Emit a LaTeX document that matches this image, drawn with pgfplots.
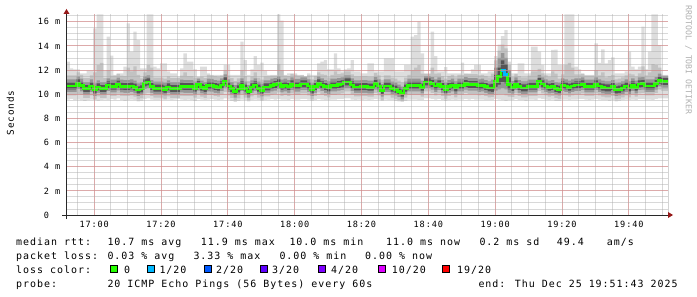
\documentclass[border=0pt]{standalone}
\usepackage{fontspec}
\usepackage{pgfplots}
\pgfplotsset{compat=1.18}
\usepackage{pgfplotstable}

\newfontfamily\rrdfont{DejaVu Sans Mono}[LetterSpace=10]
\newfontfamily\rrdplain{DejaVu Sans Mono}
\newcommand\legfont{\rrdfont\fontsize{10}{12}\selectfont}
\newcommand\tickfont{\rrdfont\fontsize{8.6}{10}\selectfont}
\newcommand\ylabfont{\rrdfont\fontsize{9.4}{11}\selectfont}
\newcommand\wmfont{\rrdplain\fontsize{8.2}{10}\selectfont}

\definecolor{smA}{HTML}{DDDDDD}
\definecolor{smB}{HTML}{C2C2C2}
\definecolor{smC}{HTML}{969696}
\definecolor{smD}{HTML}{555555}
\definecolor{lossA}{HTML}{26FF00}
\definecolor{lossB}{HTML}{00B8FF}
\definecolor{lossC}{HTML}{0059FF}
\definecolor{lossD}{HTML}{5E00FF}
\definecolor{lossE}{HTML}{7E00FF}
\definecolor{lossF}{HTML}{DD00FF}
\definecolor{lossG}{HTML}{FF0000}
\definecolor{gridred}{RGB}{225,125,125}
\definecolor{gridgray}{RGB}{170,170,170}
\definecolor{axiscol}{RGB}{40,40,40}
\definecolor{arrowcol}{RGB}{150,25,25}
\definecolor{wmcol}{RGB}{175,175,175}

\pgfplotstableread{
i mn l2 l3 l4 md h4 h3 h2 mx
0 9.55 9.90 10.18 10.40 10.68 10.98 11.23 11.56 12.69
1 9.60 9.90 10.18 10.40 10.68 10.98 11.23 11.56 12.14
2 9.50 9.90 10.18 10.40 10.68 10.98 11.23 11.56 12.06
3 9.55 10.00 10.43 10.65 10.93 11.23 11.48 11.81 12.06
4 9.50 9.95 10.23 10.45 10.73 11.03 11.28 11.61 11.73
5 9.45 9.68 9.96 10.18 10.46 10.76 11.01 11.34 11.73
6 9.50 9.68 9.96 10.18 10.46 10.76 11.01 11.34 11.95
7 9.55 9.90 10.18 10.40 10.68 10.98 11.23 11.56 11.95
8 9.50 9.57 9.85 10.07 10.35 10.65 10.90 11.80 15.45
9 9.45 9.82 10.10 10.32 10.60 10.90 11.15 12.40 16.60
10 9.50 9.68 9.96 10.18 10.46 10.76 11.01 12.60 16.60
11 9.55 9.68 9.96 10.18 10.46 10.76 11.01 11.34 11.95
12 9.50 9.98 10.26 10.48 10.76 11.06 11.31 12.00 14.76
13 9.60 9.87 10.15 10.37 10.65 10.95 11.20 11.53 13.19
14 9.55 9.87 10.15 10.37 10.65 10.95 11.20 11.53 11.60
15 9.65 10.04 10.32 10.54 10.82 11.12 11.37 11.68 11.73
16 9.50 9.87 10.15 10.37 10.65 10.95 11.20 11.53 11.73
17 9.45 9.84 10.12 10.34 10.62 10.92 11.17 11.50 12.28
18 9.50 9.84 10.12 10.34 10.62 10.92 11.17 12.20 15.87
19 9.55 9.90 10.18 10.40 10.68 10.98 11.23 11.90 13.52
20 9.50 9.79 10.07 10.29 10.57 10.87 11.12 12.30 15.18
21 9.40 9.57 9.85 10.07 10.35 10.65 10.90 11.60 14.48
22 9.45 9.65 9.93 10.15 10.43 10.73 10.98 11.31 12.14
23 9.60 10.05 10.43 10.65 10.93 11.23 11.48 11.81 12.14
24 9.65 10.10 10.51 10.73 11.01 11.31 11.56 12.40 16.60
25 9.55 9.84 10.12 10.34 10.62 10.92 11.17 12.20 16.60
26 9.50 9.71 9.99 10.21 10.49 10.79 11.04 11.37 12.28
27 9.50 9.71 9.99 10.21 10.49 10.79 11.04 11.37 12.14
28 9.55 9.71 9.99 10.21 10.49 10.79 11.04 11.37 12.55
29 9.50 9.62 9.90 10.12 10.40 10.70 10.95 11.28 12.55
30 9.55 9.82 10.10 10.32 10.60 10.90 11.15 11.48 11.90
31 9.50 9.68 9.96 10.18 10.46 10.76 11.01 11.34 11.73
32 9.55 9.68 9.96 10.18 10.46 10.76 11.01 11.34 11.73
33 9.60 9.68 9.96 10.18 10.46 10.76 11.01 11.34 11.45
34 9.55 9.87 10.15 10.37 10.65 10.95 11.20 11.53 12.14
35 9.50 9.84 10.12 10.34 10.62 10.92 11.17 11.80 13.38
36 9.55 9.84 10.12 10.34 10.62 10.92 11.17 11.50 12.69
37 9.50 9.84 10.12 10.34 10.62 10.92 11.17 11.50 12.69
38 9.45 9.71 9.99 10.21 10.49 10.79 11.04 11.37 12.06
39 9.60 10.01 10.29 10.51 10.79 11.09 11.30 11.40 11.45
40 9.55 9.79 10.07 10.29 10.57 10.87 11.12 11.45 12.28
41 9.50 9.68 9.96 10.18 10.46 10.76 11.01 11.34 12.28
42 9.55 9.95 10.23 10.45 10.73 11.03 11.28 11.61 11.73
43 9.60 9.93 10.21 10.43 10.71 11.01 11.26 11.55 11.60
44 9.55 9.84 10.12 10.34 10.62 10.92 11.17 11.50 11.60
45 9.50 9.79 10.07 10.29 10.57 10.87 11.12 11.45 11.60
46 9.55 9.98 10.26 10.48 10.76 11.06 11.31 11.54 11.59
47 9.65 10.20 10.55 10.81 11.09 11.39 11.64 11.97 12.42
48 9.55 9.90 10.18 10.40 10.68 10.98 11.23 11.56 12.42
49 9.45 9.68 9.96 10.18 10.46 10.76 11.01 11.34 11.59
50 9.35 9.50 9.71 9.93 10.21 10.51 10.76 11.09 11.59
51 9.45 9.65 9.93 10.15 10.43 10.73 10.98 11.31 11.59
52 9.55 9.98 10.26 10.48 10.76 11.06 11.31 12.00 14.35
53 9.50 9.71 9.99 10.21 10.49 10.79 11.04 11.50 12.83
54 9.40 9.50 9.71 9.93 10.21 10.51 10.76 11.09 11.59
55 9.50 9.82 10.10 10.32 10.60 10.90 11.15 11.48 12.06
56 9.55 9.98 10.26 10.48 10.76 11.06 11.31 11.80 13.16
57 9.50 9.71 9.99 10.21 10.49 10.79 11.04 11.37 12.42
58 9.45 9.54 9.82 10.04 10.32 10.62 10.87 11.20 12.61
59 9.50 9.82 10.10 10.32 10.60 10.90 11.15 11.48 11.95
60 9.55 9.82 10.10 10.32 10.60 10.90 11.15 11.48 11.59
61 9.60 9.95 10.23 10.45 10.73 11.03 11.28 11.54 11.59
62 9.55 10.01 10.29 10.51 10.79 11.09 11.34 11.54 11.59
63 9.60 10.15 10.43 10.65 10.93 11.23 11.48 12.50 16.60
64 9.55 9.87 10.15 10.37 10.65 10.95 11.20 12.00 16.10
65 9.55 9.95 10.23 10.45 10.73 11.03 11.28 11.54 11.59
66 9.50 9.84 10.12 10.34 10.62 10.92 11.17 11.50 11.73
67 9.60 10.06 10.34 10.56 10.84 11.14 11.39 11.68 11.73
68 9.55 9.93 10.21 10.43 10.71 11.01 11.26 11.59 11.73
69 9.55 9.93 10.21 10.43 10.71 11.01 11.26 11.54 11.59
70 9.60 10.06 10.34 10.56 10.84 11.14 11.39 11.55 11.60
71 9.60 10.06 10.34 10.56 10.84 11.14 11.39 11.45 11.50
72 9.55 9.90 10.18 10.40 10.68 10.98 11.23 11.56 11.73
73 9.45 9.57 9.85 10.07 10.35 10.65 10.90 11.23 11.59
74 9.50 9.84 10.12 10.34 10.62 10.92 11.17 11.50 11.59
75 9.60 10.15 10.43 10.65 10.93 11.23 11.48 11.81 12.55
76 9.55 9.98 10.26 10.48 10.76 11.06 11.31 11.64 12.69
77 9.50 9.84 10.12 10.34 10.62 10.92 11.17 11.60 12.83
78 9.50 9.73 10.01 10.23 10.51 10.81 11.06 11.39 12.06
79 9.55 9.95 10.23 10.45 10.73 11.03 11.28 11.61 12.06
80 9.55 9.95 10.23 10.45 10.73 11.03 11.28 11.90 13.38
81 9.60 10.01 10.29 10.51 10.79 11.09 11.34 11.67 12.14
82 9.60 10.06 10.34 10.56 10.84 11.14 11.39 11.72 11.90
83 9.65 10.23 10.51 10.73 11.01 11.31 11.56 11.89 12.06
84 9.65 10.23 10.51 10.73 11.01 11.31 11.56 11.89 12.14
85 9.55 9.98 10.26 10.48 10.76 11.06 11.31 11.64 12.83
86 9.50 9.82 10.10 10.32 10.60 10.90 11.15 11.48 11.90
87 9.55 9.82 10.10 10.32 10.60 10.90 11.15 11.48 11.90
88 9.50 9.84 10.12 10.34 10.62 10.92 11.17 11.50 11.73
89 9.55 9.84 10.12 10.34 10.62 10.92 11.17 11.50 11.73
90 9.50 9.79 10.07 10.29 10.57 10.87 11.12 11.45 12.55
91 9.55 9.79 10.07 10.29 10.57 10.87 11.12 11.45 12.55
92 9.60 10.09 10.37 10.59 10.87 11.17 11.42 11.75 11.90
93 9.55 9.90 10.18 10.40 10.68 10.98 11.23 11.56 11.90
94 9.45 9.52 9.80 10.02 10.30 10.60 10.85 11.18 11.90
95 9.55 9.90 10.18 10.40 10.68 10.98 11.23 11.56 12.97
96 9.50 9.90 10.18 10.40 10.68 10.98 11.23 11.56 12.97
97 9.50 9.71 9.99 10.21 10.49 10.79 11.04 11.37 12.97
98 9.45 9.62 9.90 10.12 10.40 10.70 10.95 11.28 11.90
99 9.40 9.50 9.75 9.97 10.25 10.55 10.80 11.13 11.90
100 9.35 9.45 9.57 9.79 10.07 10.37 10.62 10.95 11.90
101 9.45 9.71 9.99 10.21 10.49 10.79 11.04 11.37 12.42
102 9.55 9.95 10.23 10.45 10.73 11.03 11.28 11.61 12.42
103 9.55 9.95 10.23 10.45 10.73 11.03 11.28 12.00 14.76
104 9.55 9.95 10.23 10.45 10.73 11.03 11.28 12.20 14.90
105 9.50 9.95 10.23 10.45 10.73 11.03 11.28 12.40 16.00
106 9.50 9.79 10.07 10.29 10.57 10.87 11.12 11.70 13.38
107 9.65 10.23 10.51 10.73 11.01 11.31 11.50 11.68 11.73
108 9.65 10.23 10.51 10.73 11.01 11.31 11.50 11.68 11.73
109 9.60 10.09 10.37 10.59 10.87 11.17 11.42 12.20 15.18
110 9.55 9.90 10.18 10.40 10.68 10.98 11.23 11.70 13.16
111 9.60 10.06 10.34 10.56 10.84 11.14 11.39 11.72 11.90
112 9.50 9.84 10.12 10.34 10.62 10.92 11.17 11.50 11.90
113 9.45 9.62 9.90 10.12 10.40 10.70 10.95 11.28 12.25
114 9.50 9.84 10.12 10.34 10.62 10.92 11.17 11.50 11.73
115 9.55 9.95 10.23 10.45 10.73 11.03 11.28 11.61 11.73
116 9.50 9.73 10.01 10.23 10.51 10.81 11.06 11.39 11.73
117 9.55 9.95 10.23 10.45 10.73 11.03 11.28 11.61 11.73
118 9.55 9.95 10.23 10.45 10.73 11.03 11.28 11.61 12.61
119 9.60 10.09 10.37 10.59 10.87 11.17 11.42 11.68 11.73
120 9.55 10.01 10.29 10.51 10.79 11.09 11.34 11.67 11.73
121 9.60 10.01 10.29 10.51 10.79 11.09 11.34 11.67 12.06
122 9.55 10.01 10.29 10.51 10.79 11.09 11.34 11.67 12.42
123 9.55 9.90 10.18 10.40 10.68 10.98 11.23 11.56 12.42
124 9.55 9.95 10.23 10.45 10.73 11.03 11.28 11.61 11.73
125 9.50 9.84 10.12 10.34 10.62 10.92 11.17 11.50 11.73
126 9.50 9.73 10.01 10.23 10.51 10.81 11.06 11.39 11.90
127 9.50 9.75 10.00 10.20 10.51 10.85 11.20 11.70 11.90
128 9.60 9.95 10.30 10.60 11.06 11.60 12.20 12.80 13.16
129 9.55 10.00 10.40 10.80 11.45 12.20 13.00 13.60 14.10
130 9.50 10.00 10.50 11.00 11.95 12.80 13.40 14.10 14.80
131 9.45 9.90 10.40 10.90 11.65 12.50 13.00 13.80 15.30
132 9.50 9.80 10.10 10.40 10.79 11.40 12.00 12.40 12.69
133 9.50 9.76 10.04 10.26 10.54 10.84 11.09 11.42 11.73
134 9.60 10.06 10.34 10.56 10.84 11.14 11.39 11.68 11.73
135 9.50 9.84 10.12 10.34 10.62 10.92 11.17 11.50 12.55
136 9.50 9.73 10.01 10.23 10.51 10.81 11.06 11.39 12.55
137 9.45 9.73 10.01 10.23 10.51 10.81 11.06 11.39 11.73
138 9.55 9.87 10.15 10.37 10.65 10.95 11.20 11.53 11.73
139 9.55 9.87 10.15 10.37 10.65 10.95 11.20 11.90 13.94
140 9.50 9.87 10.15 10.37 10.65 10.95 11.20 11.90 13.94
141 9.65 10.26 10.54 10.76 11.04 11.34 11.59 12.10 13.52
142 9.60 10.06 10.34 10.56 10.84 11.14 11.39 11.72 12.42
143 9.55 9.90 10.18 10.40 10.68 10.98 11.23 11.56 11.73
144 9.50 9.79 10.07 10.29 10.57 10.87 11.12 11.45 11.73
145 9.55 9.84 10.12 10.34 10.62 10.92 11.17 11.90 13.66
146 9.45 9.68 9.96 10.18 10.46 10.76 11.01 11.70 13.70
147 9.45 9.62 9.90 10.12 10.40 10.70 10.95 11.28 12.42
148 9.55 9.98 10.26 10.48 10.76 11.06 11.31 11.64 12.42
149 9.55 9.90 10.18 10.40 10.68 10.98 11.23 12.40 16.60
150 9.50 9.79 10.07 10.29 10.57 10.87 11.12 12.60 16.60
151 9.55 9.90 10.18 10.40 10.68 10.98 11.23 12.20 16.60
152 9.55 9.98 10.26 10.48 10.76 11.06 11.31 11.64 12.28
153 9.60 9.98 10.26 10.48 10.76 11.06 11.31 11.64 12.06
154 9.60 10.06 10.34 10.56 10.84 11.14 11.39 11.68 11.73
155 9.55 9.87 10.15 10.37 10.65 10.95 11.20 11.53 11.60
156 9.50 9.87 10.15 10.37 10.65 10.95 11.20 11.53 11.60
157 9.55 9.87 10.15 10.37 10.65 10.95 11.20 11.53 11.60
158 9.60 10.06 10.34 10.56 10.84 11.14 11.39 12.00 14.21
159 9.55 9.90 10.18 10.40 10.68 10.98 11.23 11.56 12.60
160 9.50 9.79 10.07 10.29 10.57 10.87 11.12 11.80 13.72
161 9.50 9.73 10.01 10.23 10.51 10.81 11.06 11.39 12.55
162 9.45 9.73 10.01 10.23 10.51 10.81 11.06 11.50 12.83
163 9.50 9.84 10.12 10.34 10.62 10.92 11.17 11.60 13.05
164 9.40 9.57 9.85 10.07 10.35 10.65 10.90 11.23 11.73
165 9.45 9.62 9.90 10.12 10.40 10.70 10.95 11.28 11.73
166 9.50 9.73 10.01 10.23 10.51 10.81 11.06 11.39 11.73
167 9.55 9.90 10.18 10.40 10.68 10.98 11.23 11.56 11.90
168 9.50 9.73 10.01 10.23 10.51 10.81 11.06 11.70 13.52
169 9.55 9.98 10.26 10.48 10.76 11.06 11.31 11.64 12.28
170 9.50 9.79 10.07 10.29 10.57 10.87 11.12 11.45 12.06
171 9.60 10.06 10.34 10.56 10.84 11.14 11.39 11.72 12.28
172 9.60 10.09 10.37 10.59 10.87 11.17 11.42 12.30 15.59
173 9.55 9.90 10.18 10.40 10.68 10.98 11.23 11.56 12.06
174 9.55 9.90 10.18 10.40 10.68 10.98 11.23 11.80 13.52
175 9.50 9.90 10.18 10.40 10.68 10.98 11.23 12.50 16.60
176 9.60 10.09 10.37 10.59 10.87 11.17 11.42 12.40 16.60
177 9.65 10.37 10.65 10.87 11.15 11.45 11.70 12.20 14.07
178 9.65 10.26 10.54 10.76 11.04 11.34 11.50 11.56 11.60
179 9.65 10.26 10.54 10.76 11.04 11.34 11.50 11.56 11.60
180 9.65 10.26 10.54 10.76 11.04 11.34 11.50 11.56 11.60
}\smoke

\begin{document}
\begin{tikzpicture}
\useasboundingbox (-66.5bp,-82bp) rectangle (630.5bp,215bp);
\begin{axis}[
  at={(0bp,0bp)}, anchor=south west,
  scale only axis, width=601.5bp, height=201bp,
  xmin=0, xmax=180, ymin=0, ymax=16.64,
  axis line style={draw=none},
  axis on top,
  tick pos=left,
  major tick length=0pt, minor tick length=0pt,
  xtick={8.28,28.28,48.28,68.28,88.28,108.28,128.28,148.28,168.28},
  xticklabels={17:00,17:20,17:40,18:00,18:20,18:40,19:00,19:20,19:40},
  minor xtick={3.28,8.28,...,178.28},
  ytick={0,2,...,16},
  yticklabels={0\hphantom{ m},2 m,4 m,6 m,8 m,10 m,12 m,14 m,16 m},
  minor ytick={0.5,1,...,16.5},
  grid=both,
  major grid style={draw=gridred, draw opacity=0.5, line width=0.9bp},
  minor grid style={draw=gridgray, draw opacity=0.45, line width=0.9bp},
  xticklabel style={font=\tickfont, anchor=base, inner sep=0pt, yshift=-12.5bp},
  yticklabel style={font=\tickfont, anchor=east, inner sep=0pt, xshift=-6bp},
]
% smoke, painted from the outermost band inward
\addplot[const plot, draw=none, fill=smA, forget plot] table[x=i,y=mx]{\smoke} \closedcycle;
\addplot[const plot, draw=none, fill=smB, forget plot] table[x=i,y=h2]{\smoke} \closedcycle;
\addplot[const plot, draw=none, fill=smC, forget plot] table[x=i,y=h3]{\smoke} \closedcycle;
\addplot[const plot, draw=none, fill=smD, forget plot] table[x=i,y=h4]{\smoke} \closedcycle;
\addplot[const plot, draw=none, fill=smC, forget plot] table[x=i,y=l4]{\smoke} \closedcycle;
\addplot[const plot, draw=none, fill=smB, forget plot] table[x=i,y=l3]{\smoke} \closedcycle;
\addplot[const plot, draw=none, fill=smA, forget plot] table[x=i,y=l2]{\smoke} \closedcycle;
\addplot[const plot, draw=none, fill=white, forget plot] table[x=i,y=mn]{\smoke} \closedcycle;
% median
\addplot[const plot, draw=lossA, line width=2.8bp, forget plot] table[x=i,y=md]{\smoke};
\addplot[const plot, draw=lossB, line width=2.8bp, forget plot] coordinates {(130,11.95) (131,11.65) (132,11.65)};
\end{axis}
% axis lines and arrows
\draw[axiscol, line width=1bp] (-4bp,0bp) -- (601.5bp,0bp);
\fill[arrowcol] (601.5bp,-3bp) -- (606.5bp,0bp) -- (601.5bp,3bp) -- cycle;
\draw[axiscol, line width=1bp] (0bp,-4bp) -- (0bp,201bp);
\fill[arrowcol] (-3bp,201bp) -- (0bp,206bp) -- (3bp,201bp) -- cycle;
% labels
\node[rotate=90, font=\ylabfont, inner sep=0pt] at (-56bp,102bp) {Seconds};
\node[rotate=-90, font=\wmfont, text=wmcol, inner sep=0pt] at (622bp,155bp) {RRDTOOL / TOBI OETIKER};
\begin{scope}[every node/.style={anchor=base west, inner sep=0pt, font=\legfont}]
\node at (-50.5bp,-30bp) {median rtt:};
\node at (40.8bp,-30bp) {10.7 ms avg};
\node at (134.2bp,-30bp) {11.9 ms max};
\node at (222.8bp,-30bp) {10.0 ms min};
\node at (319.5bp,-30bp) {11.0 ms now};
\node at (412.8bp,-30bp) {0.2 ms sd};
\node at (490.2bp,-30bp) {49.4};
\node at (540.2bp,-30bp) {am/s};
\node at (-50.5bp,-44bp) {packet loss:};
\node at (40.8bp,-44bp) {0.03 \% avg};
\node at (126.8bp,-44bp) {3.33 \% max};
\node at (212.8bp,-44bp) {0.00 \% min};
\node at (298.5bp,-44bp) {0.00 \% now};
\node at (-50.5bp,-58bp) {loss color:};
\node at (57.5bp,-58bp) {0};
\node at (92.8bp,-58bp) {1/20};
\node at (149.5bp,-58bp) {2/20};
\node at (205.5bp,-58bp) {3/20};
\node at (264.5bp,-58bp) {4/20};
\node at (325.2bp,-58bp) {10/20};
\node at (390.5bp,-58bp) {19/20};
\node at (-50.5bp,-72bp) {probe:};
\node at (40.8bp,-72bp) {20 ICMP Echo Pings (56 Bytes) every 60s};
\node at (411.8bp,-72bp) {end: Thu Dec 25 19:51:43 2025};
\end{scope}
\foreach \bx/\bc in {44.2/lossA,80.5/lossB,137.5/lossC,193.5/lossD,251.5/lossE,312/lossF,376.2/lossG}{
  \draw[black, line width=0.9bp, fill=\bc] (\bx bp,-57.8bp) rectangle ++(7bp,7bp);
}
\end{tikzpicture}
\end{document}
